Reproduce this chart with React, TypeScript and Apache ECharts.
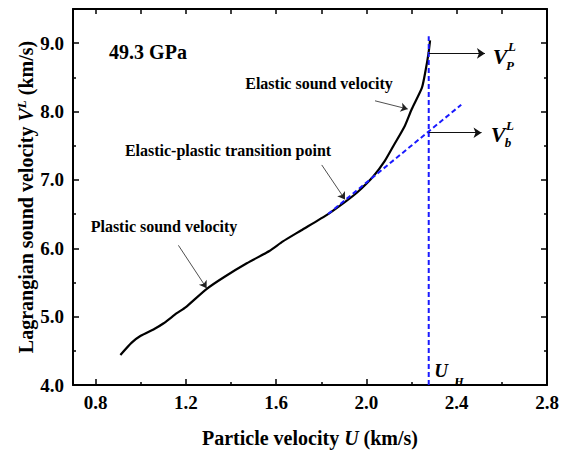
import React, { useEffect, useRef } from 'react';
import * as echarts from 'echarts';

// Particle velocity U (km/s) and Lagrangian sound velocity V^L (km/s)
const curveU = [0.91, 0.96, 1.0, 1.06, 1.1, 1.16, 1.2, 1.29, 1.37, 1.47, 1.57, 1.63, 1.71, 1.83, 1.91, 1.96, 2.03, 2.08, 2.12, 2.17, 2.2, 2.246, 2.262, 2.275, 2.282];
const curveV = [4.44, 4.62, 4.72, 4.82, 4.9, 5.05, 5.14, 5.4, 5.58, 5.78, 5.96, 6.1, 6.26, 6.5, 6.69, 6.82, 7.05, 7.27, 7.5, 7.79, 8.03, 8.35, 8.6, 8.85, 9.04];

// Tangent (bulk) line and U_H vertical line
const tangentU = [1.83, 2.42];
const tangentV = [6.5, 8.1];
const uH = 2.276;
const uHV = [4.0, 9.1];

// Arrow annotations [u1, v1, u2, v2]
const pointerArrows = [
  [2.038, 8.157, 2.183, 8.037],
  [1.802, 7.219, 1.905, 6.715],
  [1.167, 6.043, 1.292, 5.417],
];
const levelArrows = [
  [2.276, 8.85, 2.525, 8.85],
  [2.276, 7.69, 2.51, 7.69],
];

const xMajor = [0.8, 1.2, 1.6, 2.0, 2.4, 2.8];
const xMinor = [1.0, 1.4, 1.8, 2.2, 2.6];
const yMajor = [4, 5, 6, 7, 8, 9];
const yMinor = [4.5, 5.5, 6.5, 7.5, 8.5];

const FONT = 'Liberation Serif';

export default function App() {
  const ref = useRef<HTMLDivElement>(null);
  useEffect(() => {
    const chart = echarts.init(ref.current!, null, { renderer: 'svg' });
    const black = '#000';
    const mkX = (pos: string, vals: number[], len: number, main: boolean) => ({
      type: 'value', min: 0.7, max: 2.8, position: pos,
      axisLine: { show: main, onZero: false, lineStyle: { color: black, width: 2 } },
      axisTick: { show: true, inside: true, length: len, customValues: vals, lineStyle: { color: black, width: 1.5 } },
      axisLabel: main && pos === 'bottom'
        ? { show: true, customValues: xMajor, formatter: (v: number) => v.toFixed(1), color: black, fontFamily: FONT, fontWeight: 'bold', fontSize: 19, margin: 8 }
        : { show: false },
      splitLine: { show: false },
    });
    const mkY = (pos: string, vals: number[], len: number, main: boolean) => ({
      type: 'value', min: 4, max: 9.5, position: pos,
      axisLine: { show: main, onZero: false, lineStyle: { color: black, width: 2 } },
      axisTick: { show: true, inside: true, length: len, customValues: vals, lineStyle: { color: black, width: 1.5 } },
      axisLabel: main && pos === 'left'
        ? { show: true, customValues: yMajor, formatter: (v: number) => v.toFixed(1), color: black, fontFamily: FONT, fontWeight: 'bold', fontSize: 19, margin: 9 }
        : { show: false },
      splitLine: { show: false },
    });
    const xAxes: any[] = [mkX('bottom', xMajor, 6, true), mkX('bottom', xMinor, 3, false), mkX('top', xMajor, 5, true), mkX('top', xMinor, 5, false)];
    xAxes[0].name = '{b|Particle velocity }{i|U}{b| (km/s)}';
    xAxes[0].nameLocation = 'middle';
    xAxes[0].nameGap = 43;
    xAxes[0].nameMoveOverlap = false;
    xAxes[0].nameTextStyle = {
      rich: {
        b: { fontFamily: FONT, fontWeight: 'bold', fontSize: 20, color: black },
        i: { fontFamily: FONT, fontWeight: 'bold', fontStyle: 'italic', fontSize: 20, color: black },
      },
    };
    const yAxes: any[] = [mkY('left', yMajor, 6, true), mkY('left', yMinor, 3, false), mkY('right', yMajor, 6, true), mkY('right', yMinor, 3, false)];
    yAxes[0].name = '{b|Lagrangian sound velocity }{i|V}{s|L}{b| (km/s)}';
    yAxes[0].nameLocation = 'middle';
    yAxes[0].nameGap = 36;
    yAxes[0].nameMoveOverlap = false;
    yAxes[0].nameTextStyle = {
      rich: {
        b: { fontFamily: FONT, fontWeight: 'bold', fontSize: 20, color: black },
        i: { fontFamily: FONT, fontWeight: 'bold', fontStyle: 'italic', fontSize: 20, color: black },
        s: { fontFamily: FONT, fontWeight: 'bold', fontStyle: 'italic', fontSize: 13, color: black, verticalAlign: 'top', padding: [0, 0, 9, 0] },
      },
    };

    const blue = '#1a1aff';
    const txt = (text: string, x: number, y: number, size: number, italic = false, align = 'center') => ({
      type: 'text', x, y, silent: true,
      style: {
        text, fill: black, fontFamily: FONT, fontSize: size, fontWeight: 'bold',
        fontStyle: italic ? 'italic' : 'normal', align, verticalAlign: 'middle',
      },
    });

    chart.setOption({
      animation: false,
      grid: { left: 73, top: 9, right: 31, bottom: 63, containLabel: false },
      xAxis: xAxes,
      yAxis: yAxes,
      series: [
        {
          type: 'line', name: 'curve', xAxisIndex: 0, yAxisIndex: 0,
          data: curveU.map((u, i) => [u, curveV[i]]),
          showSymbol: false, symbol: 'none', smooth: 0.2,
          lineStyle: { color: black, width: 2.2 },
        },
        {
          type: 'line', name: 'tangent', xAxisIndex: 0, yAxisIndex: 0,
          data: tangentU.map((u, i) => [u, tangentV[i]]),
          symbol: 'none', lineStyle: { color: blue, width: 2, type: [5, 3] },
        },
        {
          type: 'line', name: 'UH', xAxisIndex: 0, yAxisIndex: 0,
          data: uHV.map((v) => [uH, v]),
          symbol: 'none', lineStyle: { color: blue, width: 2, type: [5, 3] },
        },
        {
          type: 'line', name: 'pointers', xAxisIndex: 0, yAxisIndex: 0, data: [],
          markLine: {
            silent: true, symbol: ['none', 'arrow'], symbolSize: 7,
            label: { show: false },
            itemStyle: { color: '#222' },
            lineStyle: { color: '#222', width: 0.8, type: 'solid' },
            data: pointerArrows.map((a) => [{ coord: [a[0], a[1]] }, { coord: [a[2], a[3]] }]),
          },
        },
        {
          type: 'line', name: 'levels', xAxisIndex: 0, yAxisIndex: 0, data: [],
          markLine: {
            silent: true, symbol: ['none', 'arrow'], symbolSize: 8,
            label: { show: false },
            itemStyle: { color: '#111' },
            lineStyle: { color: '#111', width: 1, type: 'solid' },
            data: levelArrows.map((a) => [{ coord: [a[0], a[1]] }, { coord: [a[2], a[3]] }]),
          },
        },
      ],
      graphic: [
        txt('49.3 GPa', 148, 52, 20),
        txt('Elastic sound velocity', 319, 83, 16),
        txt('Elastic-plastic transition point', 228, 150, 16),
        txt('Plastic sound velocity', 164, 226, 16),
        txt('V', 500, 56, 22, true),
        txt('L', 512, 46, 13, true),
        txt('P', 510, 65, 13, true),
        txt('V', 498, 134, 22, true),
        txt('L', 510, 125, 13, true),
        txt('b', 508, 142, 13, true),
        txt('U', 441, 370, 19, true),
        txt('H', 459, 382, 12, true),
      ],
    });
    return () => chart.dispose();
  }, []);
  return <div ref={ref} style={{ position: 'absolute', left: 0, top: 0, width: 578, height: 453 }} />;
}
